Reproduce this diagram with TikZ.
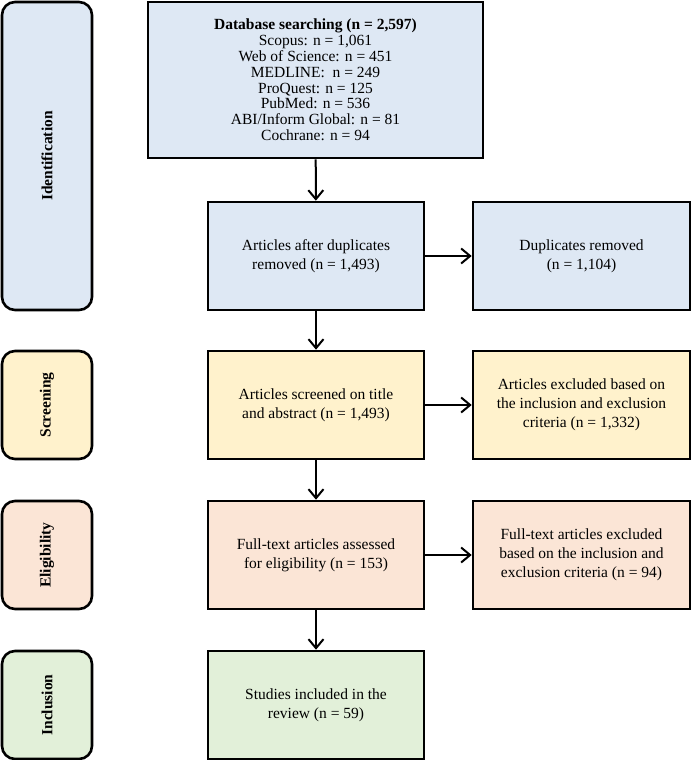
\documentclass[tikz,border=0pt]{standalone}
\usepackage{fontspec}
\setmainfont{Liberation Serif}
\usetikzlibrary{arrows.meta}

\definecolor{idblue}{HTML}{DEE8F4}
\definecolor{scryellow}{HTML}{FFF2CC}
\definecolor{elipink}{HTML}{FBE5D6}
\definecolor{incgreen}{HTML}{E2F0D9}

\begin{document}
\begin{tikzpicture}[x=1pt,y=-1pt,
    box/.style={draw=black,line width=2.6pt,align=center,inner sep=4pt,
      font=\fontsize{15.5}{19}\selectfont},
    stage/.style={box,rounded corners=13pt,minimum width=90pt,
      font=\bfseries\fontsize{15.5}{19}\selectfont},
    flow/.style={line width=2pt,-{Straight Barb[length=9pt,width=15pt,line width=2pt]}}]
  \useasboundingbox (0,0) rectangle (691,760);

  % stages on the left
  \node[stage,fill=idblue,minimum height=308pt] (ident) at (47,156) {\rotatebox{90}{Identification}};
  \node[stage,fill=scryellow,minimum height=108pt] (screen) at (47,405) {\rotatebox{90}{Screening}};
  \node[stage,fill=elipink,minimum height=108pt] (elig) at (47,555) {\rotatebox{90}{Eligibility}};
  \node[stage,fill=incgreen,minimum height=108pt] (incl) at (47,705) {\rotatebox{90}{Inclusion}};

  % main column
  \node[box,fill=idblue,minimum width=335pt,minimum height=156pt,
    font=\fontsize{15.5}{15.8}\selectfont] (search) at (315.5,80)
    {\textbf{Database searching (n = 2,597)}\\ Scopus: n = 1,061\\ Web of Science: n = 451\\
     MEDLINE:~ n = 249\\ ProQuest: n = 125\\ PubMed: n = 536\\ ABI/Inform Global: n = 81\\
     Cochrane: n = 94};
  \node[box,fill=idblue,minimum width=216pt,minimum height=108pt] (dedup) at (316,256)
    {Articles after duplicates\\ removed (n = 1,493)};
  \node[box,fill=scryellow,minimum width=216pt,minimum height=108pt] (screened) at (316,405)
    {Articles screened on title\\ and abstract (n = 1,493)};
  \node[box,fill=elipink,minimum width=216pt,minimum height=108pt] (fulltext) at (316,555)
    {Full-text articles assessed\\ for eligibility (n = 153)};
  \node[box,fill=incgreen,minimum width=216pt,minimum height=108pt] (included) at (316,705)
    {Studies included in the\\ review (n = 59)};

  % excluded records
  \node[box,fill=idblue,minimum width=217pt,minimum height=108pt] (dupl) at (581.5,256)
    {Duplicates removed\\ (n = 1,104)};
  \node[box,fill=scryellow,minimum width=217pt,minimum height=108pt] (excl1) at (581.5,405)
    {Articles excluded based on\\ the inclusion and exclusion\\ criteria (n = 1,332)};
  \node[box,fill=elipink,minimum width=217pt,minimum height=108pt] (excl2) at (581.5,555)
    {Full-text articles excluded\\ based on the inclusion and\\ exclusion criteria (n = 94)};

  % arrows
  \draw[flow] (search) -- (dedup);
  \draw[flow] (dedup) -- (screened);
  \draw[flow] (screened) -- (fulltext);
  \draw[flow] (fulltext) -- (included);
  \draw[flow] (dedup) -- (dupl);
  \draw[flow] (screened) -- (excl1);
  \draw[flow] (fulltext) -- (excl2);
\end{tikzpicture}
\end{document}
